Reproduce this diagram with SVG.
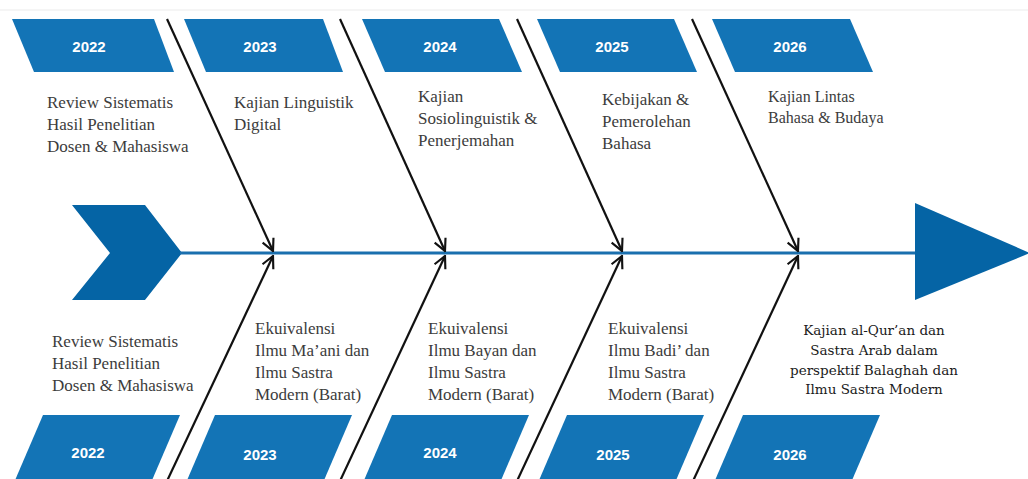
<svg xmlns="http://www.w3.org/2000/svg" width="1028" height="479" viewBox="0 0 1028 479">
<style>
.pg{fill:#1374b6}
.yr{font-family:"Liberation Sans",Arial,sans-serif;font-weight:bold;font-size:15px;fill:#fff;text-anchor:middle}
.lb{font-family:"Liberation Serif","Times New Roman",serif;font-size:17px;fill:#3c3c3c}
.lb2{font-family:"DejaVu Serif",serif;font-size:13.5px;fill:#1a1a1a}
.lb2 text{text-anchor:middle}
.bone{stroke:#111;stroke-width:2.2;fill:none;marker-end:url(#ah)}
</style>
<defs>
<marker id="ah" viewBox="0 0 12 12" refX="11" refY="6" markerWidth="6.5" markerHeight="6.5" markerUnits="strokeWidth" orient="auto">
<path d="M1,1 L11,6 L1,11" fill="none" stroke="#111" stroke-width="1.8"/>
</marker>
</defs>
<rect width="1028" height="479" fill="#fff"/>
<line x1="0" y1="10" x2="1028" y2="10" stroke="#f2f2f2" stroke-width="1.5"/>

<g id="spine">
<polygon points="72,205 145,205 182,253 145,300 72,300 110,253" fill="#0564a5"/>
<line x1="180" y1="253" x2="917" y2="253" stroke="#1a6fae" stroke-width="3"/>
<polygon points="915,203 1030,253 915,300" fill="#0564a5"/>
</g>

<g id="connectors">
<line class="bone" x1="167" y1="19" x2="273" y2="251"/>
<line class="bone" x1="340" y1="19" x2="445" y2="251"/>
<line class="bone" x1="517" y1="19" x2="622" y2="251"/>
<line class="bone" x1="692" y1="19" x2="798" y2="251"/>
<line class="bone" x1="167" y1="481" x2="273" y2="256"/>
<line class="bone" x1="340" y1="481" x2="445" y2="256"/>
<line class="bone" x1="517" y1="481" x2="622" y2="256"/>
<line class="bone" x1="693" y1="481" x2="798" y2="256"/>
</g>

<g id="top-2022">
<polygon class="pg" points="12,19 154,19 174,72 34,72"/>
<text class="yr" x="89" y="52">2022</text>
<text class="lb" x="47" y="108">Review Sistematis</text>
<text class="lb" x="47" y="130">Hasil Penelitian</text>
<text class="lb" x="47" y="152">Dosen &amp; Mahasiswa</text>
</g>
<g id="top-2023">
<polygon class="pg" points="184,19 323,19 343,72 206,72"/>
<text class="yr" x="260" y="52">2023</text>
<text class="lb" x="234" y="108">Kajian Linguistik</text>
<text class="lb" x="234" y="130">Digital</text>
</g>
<g id="top-2024">
<polygon class="pg" points="362,19 499,19 522,72 385,72"/>
<text class="yr" x="440" y="52">2024</text>
<text class="lb" x="418" y="102">Kajian</text>
<text class="lb" x="418" y="124">Sosiolinguistik &amp;</text>
<text class="lb" x="418" y="146">Penerjemahan</text>
</g>
<g id="top-2025">
<polygon class="pg" points="537,19 674,19 697,72 560,72"/>
<text class="yr" x="612" y="52">2025</text>
<text class="lb" x="602" y="105">Kebijakan &amp;</text>
<text class="lb" x="602" y="127">Pemerolehan</text>
<text class="lb" x="602" y="149">Bahasa</text>
</g>
<g id="top-2026">
<polygon class="pg" points="712,19 850,19 873,72 735,72"/>
<text class="yr" x="790" y="52">2026</text>
<text class="lb" x="768" y="102" style="font-size:16px">Kajian Lintas</text>
<text class="lb" x="768" y="123" style="font-size:16px">Bahasa &amp; Budaya</text>
</g>

<g id="bot-2022">
<polygon class="pg" points="43,415 180,415 150,485 13,485"/>
<text class="yr" x="88" y="458">2022</text>
<text class="lb" x="52" y="347">Review Sistematis</text>
<text class="lb" x="52" y="369">Hasil Penelitian</text>
<text class="lb" x="52" y="391">Dosen &amp; Mahasiswa</text>
</g>
<g id="bot-2023">
<polygon class="pg" points="215,415 352,415 322,485 185,485"/>
<text class="yr" x="260" y="460">2023</text>
<text class="lb" x="255" y="334">Ekuivalensi</text>
<text class="lb" x="255" y="356">Ilmu Ma’ani dan</text>
<text class="lb" x="255" y="378">Ilmu Sastra</text>
<text class="lb" x="255" y="400">Modern (Barat)</text>
</g>
<g id="bot-2024">
<polygon class="pg" points="392,415 529,415 499,485 362,485"/>
<text class="yr" x="440" y="458">2024</text>
<text class="lb" x="428" y="334">Ekuivalensi</text>
<text class="lb" x="428" y="356">Ilmu Bayan dan</text>
<text class="lb" x="428" y="378">Ilmu Sastra</text>
<text class="lb" x="428" y="400">Modern (Barat)</text>
</g>
<g id="bot-2025">
<polygon class="pg" points="567,415 704,415 674,485 537,485"/>
<text class="yr" x="613" y="460">2025</text>
<text class="lb" x="608" y="334">Ekuivalensi</text>
<text class="lb" x="608" y="356">Ilmu Badi’ dan</text>
<text class="lb" x="608" y="378">Ilmu Sastra</text>
<text class="lb" x="608" y="400">Modern (Barat)</text>
</g>
<g id="bot-2026">
<polygon class="pg" points="743,415 880,415 850,485 713,485"/>
<text class="yr" x="790" y="460">2026</text>
<g class="lb2">
<text x="874" y="335">Kajian al-Qur’an dan</text>
<text x="874" y="355">Sastra Arab dalam</text>
<text x="874" y="375">perspektif Balaghah dan</text>
<text x="874" y="394">Ilmu Sastra Modern</text>
</g>
</g>
</svg>
